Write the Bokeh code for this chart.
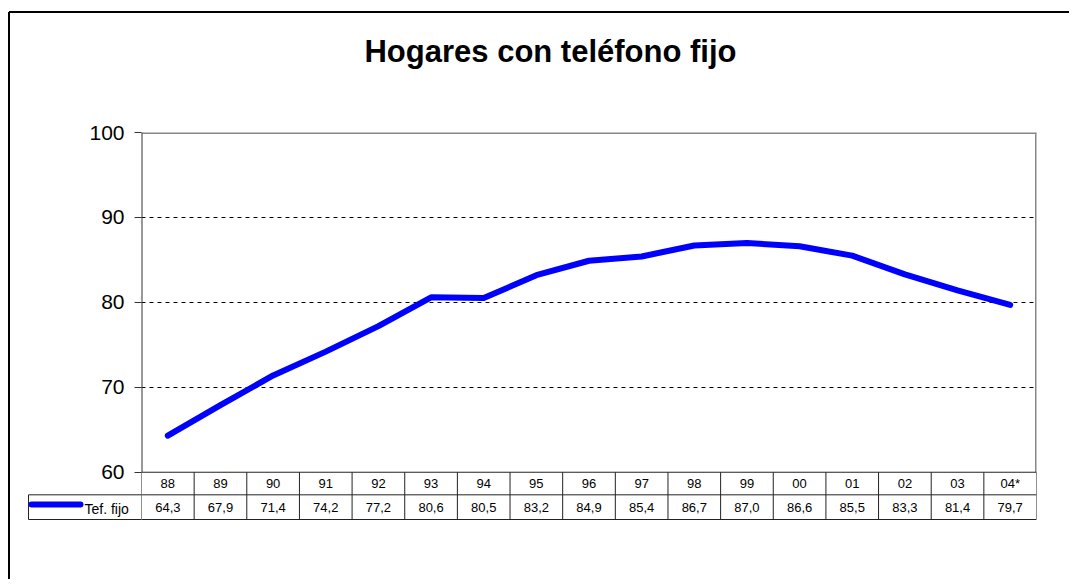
from bokeh.plotting import figure
from bokeh.models import Range1d, FixedTicker, ColumnDataSource
from bokeh.embed import file_html
from bokeh.resources import INLINE
from bokeh.core.properties import value

# ---------------- data ----------------
chart_title = "Hogares con teléfono fijo"
years = ["88", "89", "90", "91", "92", "93", "94", "95", "96", "97",
         "98", "99", "00", "01", "02", "03", "04*"]
tef_fijo = [64.3, 67.9, 71.4, 74.2, 77.2, 80.6, 80.5, 83.2, 84.9, 85.4,
            86.7, 87.0, 86.6, 85.5, 83.3, 81.4, 79.7]
series_name = "Tef. fijo"
y_ticks = [60, 70, 80, 90, 100]
grid_ticks = [70, 80, 90]

# ---------------- layout (page pixels) ----------------
W, H = 1069, 579
PAGE = 0
F_L, F_R, F_T, F_B = 141, 1036, 131.7, 525
Y_MIN, Y_MAX = 60, 100
PX_PER_UNIT = 8.5
n = len(years)
col_w = (F_R - F_L) / n

def px_to_y(py):
    return Y_MAX - (py - F_T) / PX_PER_UNIT

def px_to_x(px):
    return -0.5 + (px - F_L) / col_w

p = figure(width=W, height=H, output_backend="svg", toolbar_location=None,
           x_range=Range1d(-0.5, n - 0.5), y_range=Range1d(px_to_y(F_B), Y_MAX),
           min_border_left=F_L - PAGE, min_border_right=(PAGE + W) - F_R,
           min_border_top=int(round(F_T - PAGE)), min_border_bottom=(PAGE + H) - F_B)
p.outline_line_color = None
p.background_fill_color = "white"
p.border_fill_color = "white"
p.xaxis.visible = False
p.xgrid.visible = False

p.yaxis.ticker = FixedTicker(ticks=y_ticks)
p.yaxis.axis_line_color = None
p.yaxis.major_tick_line_color = "#333333"
p.yaxis.major_tick_out = 7
p.yaxis.major_tick_in = 0
p.yaxis.minor_tick_line_color = None
p.yaxis.major_label_text_font = "Liberation Sans"
p.yaxis.major_label_text_font_size = "21px"
p.yaxis.major_label_text_color = "black"
p.yaxis.major_label_standoff = 10

p.ygrid.ticker = FixedTicker(ticks=grid_ticks)
p.ygrid.grid_line_color = "black"
p.ygrid.grid_line_dash = "4 4"
p.ygrid.grid_line_width = 1

xs = list(range(n))

# plot borders: top & right gray
p.segment(x0=[-0.5, n - 0.5], y0=[Y_MAX, Y_MIN], x1=[n - 0.5, n - 0.5], y1=[Y_MAX, Y_MAX],
          line_color="#888888", line_width=3)

# table geometry
row_mid = px_to_y(494.3)
row_bot = px_to_y(519)
hdr_y = (Y_MIN + row_mid) / 2
val_y = (row_mid + row_bot) / 2

bounds = [i - 0.5 for i in range(n + 1)]
p.segment(x0=bounds, y0=[row_bot] * len(bounds), x1=bounds, y1=[Y_MIN] * len(bounds),
          line_color="#222222", line_width=1)
p.segment(x0=[-0.5], y0=[Y_MIN], x1=[-0.5], y1=[Y_MAX], line_color="#333333", line_width=2)
p.segment(x0=[-0.5, -0.5, -0.5], y0=[Y_MIN, row_mid, row_bot],
          x1=[n - 0.5] * 3, y1=[Y_MIN, row_mid, row_bot], line_color="#222222", line_width=1)

src = ColumnDataSource(dict(x=xs, year=years, v=tef_fijo,
                            vt=[f"{v:.1f}".replace(".", ",") for v in tef_fijo],
                            hy=[hdr_y] * n, vy=[val_y] * n))
p.text(x="x", y="hy", text="year", source=src, text_align="center", text_baseline="middle",
       text_font=value("Liberation Sans"), text_font_size="13px", text_color="black")
p.text(x="x", y="vy", text="vt", source=src, text_align="center", text_baseline="middle",
       text_font=value("Liberation Sans"), text_font_size="13px", text_color="black")

# series line
p.line(x="x", y="v", source=src, line_color="#0000FF", line_width=6,
       line_cap="round", line_join="round")

# legend cell (outside frame)
cx0 = px_to_x(28)
r1 = p.segment(x0=[cx0, cx0, cx0], y0=[row_mid, row_bot, row_mid],
               x1=[-0.5, -0.5, cx0], y1=[row_mid, row_bot, row_bot],
               line_color="#222222", line_width=1)
r1.level = "overlay"
r2 = p.segment(x0=[px_to_x(31)], y0=[px_to_y(504)], x1=[px_to_x(80)], y1=[px_to_y(504)],
               line_color="#0000FF", line_width=6, line_cap="round")
r2.level = "overlay"
r3 = p.text(x=[px_to_x(84)], y=[px_to_y(508)], text=[series_name], text_align="left",
            text_baseline="middle", text_font=value("Liberation Sans"),
            text_font_size="14px", text_color="black")
r3.level = "overlay"

# outer chart border (top & left visible)
r4 = p.segment(x0=[px_to_x(8.5), px_to_x(8.5)], y0=[px_to_y(11), px_to_y(11)],
               x1=[px_to_x(1200), px_to_x(8.5)], y1=[px_to_y(11), px_to_y(700)],
               line_color="black", line_width=2)
r4.level = "overlay"

# title
r5 = p.text(x=[px_to_x(550)], y=[px_to_y(51)], text=[chart_title], text_align="center",
            text_baseline="middle", text_font=value("Liberation Sans"),
            text_font_style="bold", text_font_size="31px", text_color="black")
r5.level = "overlay"

open("out.html", "w").write(file_html(p, INLINE))
